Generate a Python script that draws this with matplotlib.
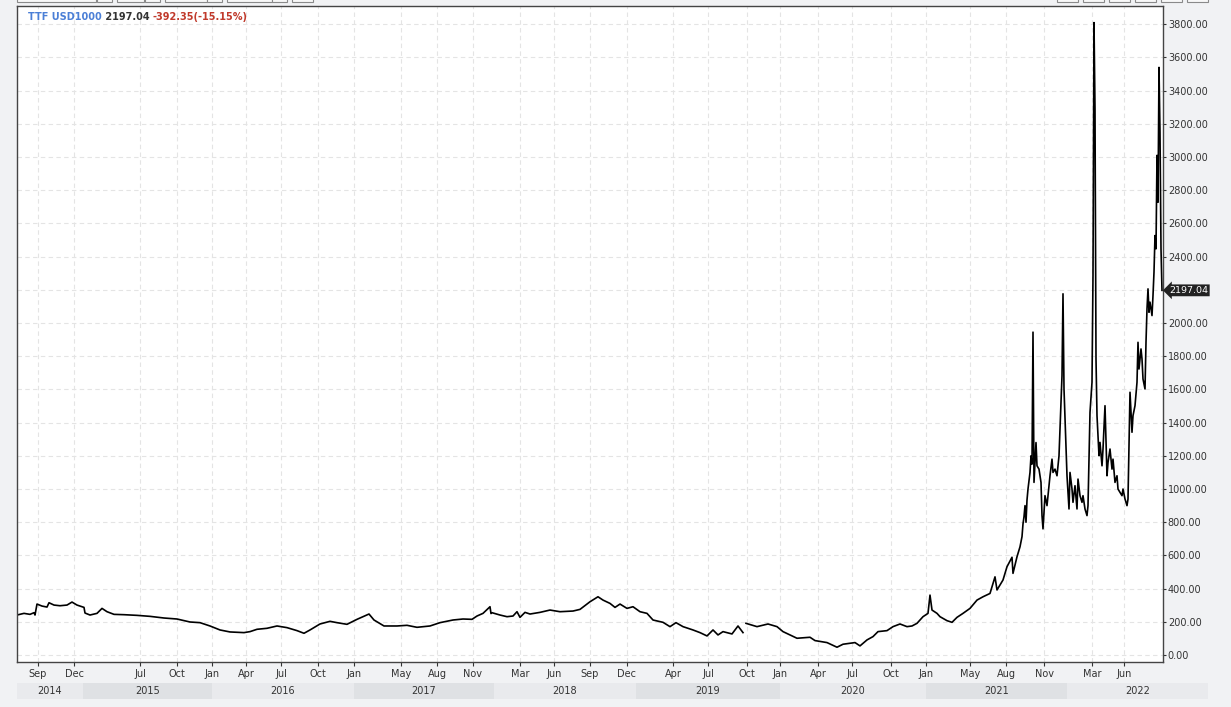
import numpy as np
import matplotlib
matplotlib.use("Agg")
import matplotlib.pyplot as plt
from matplotlib.patches import Rectangle

# bar index on the session axis, and the TTF price (USD per 1000 m3)
bars = [0, 7, 13, 17, 18, 20, 25, 30, 32, 37, 43, 50, 55, 60, 67, 68, 73, 80, 85, 90,
        97, 107, 120, 133, 147, 160, 173, 183, 193, 203, 213, 227, 233, 240, 250, 260, 270, 280, 287, 293,
        303, 313, 320, 330, 340, 352, 357, 367, 380, 390, 400, 413, 423, 436, 446, 455, 460, 466, 473, 474,
        475, 483, 490, 496, 500, 503, 508, 513, 523, 533, 543, 556, 563, 573, 581, 586, 593, 598, 603, 610,
        616, 623, 630, 636, 646, 653, 659, 666, 676, 683, 690, 696, 701, 706, 715, 721, 726, 727, 729, 740,
        751, 760, 766, 780, 793, 798, 810, 820, 826, 833, 838, 843, 850, 856, 861, 870, 876, 883, 890, 895,
        900, 906, 911, 913, 915, 920, 923, 930, 935, 940, 946, 953, 960, 966, 973, 978, 980, 986, 990, 995,
        996, 1000, 1003, 1005, 1006, 1007, 1008, 1009, 1010, 1011, 1013, 1014, 1015, 1016, 1017, 1019, 1020, 1022, 1024, 1025,
        1026, 1028, 1030, 1031, 1033, 1035, 1036, 1038, 1040, 1042, 1044, 1045, 1046, 1047, 1049, 1050, 1052, 1053, 1055, 1056,
        1058, 1060, 1061, 1063, 1065, 1066, 1068, 1070, 1071, 1073, 1075, 1076, 1077, 1078, 1079, 1080, 1082, 1083, 1085, 1086,
        1088, 1090, 1091, 1093, 1095, 1096, 1098, 1100, 1101, 1103, 1105, 1106, 1108, 1110, 1111, 1113, 1115, 1116, 1118, 1120,
        1121, 1122, 1124, 1125, 1126, 1128, 1129, 1130, 1131, 1132, 1133, 1135, 1136, 1137, 1138, 1139, 1140, 1141, 1142, 1143,
        1144, 1145]
prices = [241, 251, 245, 255, 241, 307, 295, 289, 315, 301, 297, 301, 319, 301, 287, 253, 241, 251, 281, 261,
          245, 243, 239, 233, 223, 217, 199, 195, 175, 151, 139, 135, 141, 155, 161, 175, 165, 147, 131, 151,
          187, 203, 195, 185, 215, 247, 211, 175, 175, 179, 167, 175, 195, 211, 217, 215, 235, 251, 291, 250,
          255, 241, 231, 235, 261, 227, 257, 247, 257, 271, 261, 265, 275, 321, 351, 331, 311, 287, 307, 281,
          291, 261, 251, 211, 197, 171, 195, 171, 151, 135, 115, 151, 121, 141, 127, 175, 135, np.nan, 191, 171,
          187, 171, 141, 101, 107, 87, 75, 47, 65, 71, 75, 55, 91, 111, 141, 147, 171, 187, 171, 175,
          191, 231, 251, 361, 271, 251, 231, 207, 197, 227, 251, 281, 331, 351, 371, 471, 392, 452, 532, 589,
          492, 592, 652, 713, 790, 833, 900, 800, 934, 1000, 1100, 1200, 1150, 1945, 1040, 1280, 1140, 1120, 1040, 840,
          760, 960, 900, 960, 1080, 1180, 1100, 1120, 1080, 1200, 1522, 1683, 2176, 1603, 1241, 1080, 880, 1100, 1000, 920,
          1020, 880, 1060, 960, 920, 960, 880, 840, 900, 1462, 1643, 2286, 3810, 3291, 1784, 1442, 1201, 1281, 1140, 1241,
          1502, 1080, 1160, 1241, 1120, 1180, 1040, 1080, 1000, 980, 960, 1000, 940, 900, 940, 1583, 1342, 1442, 1502, 1643,
          1884, 1723, 1844, 1784, 1663, 1603, 1884, 2085, 2206, 2065, 2126, 2045, 2166, 2307, 2527, 2447, 3010, 2728, 3540, 3150,
          2447, 2197.04]

month_ticks = [21, 57, 123, 160, 195, 229, 264, 301, 337, 384, 420, 456, 503, 537, 573,
               610, 656, 691, 730, 763, 801, 835, 874, 909, 953, 989, 1027, 1075, 1107]
month_labels = ["Sep", "Dec", "Jul", "Oct", "Jan", "Apr", "Jul", "Oct", "Jan", "May", "Aug", "Nov", "Mar", "Jun", "Sep",
                "Dec", "Apr", "Jul", "Oct", "Jan", "Apr", "Jul", "Oct", "Jan", "May", "Aug", "Nov", "Mar", "Jun"]

year_labels = ["2014", "2015", "2016", "2017", "2018", "2019", "2020", "2021", "2022"]
year_edges = [0, 66, 194.5, 337, 477, 619, 763, 909, 1050, 1191]

price_ticks = list(range(0, 3801, 200))

last_price = 2197.04
change = -392.35
change_pct = -15.15

W, H = 1231, 707
bg = "#f1f2f4"
fig = plt.figure(figsize=(W / 100, H / 100), dpi=100, facecolor=bg)

ax = fig.add_axes([17 / W, (H - 662) / H, 1146 / W, 656 / H])
ax.set_facecolor("white")
ax.plot(bars, prices, color="black", lw=1.2)
ax.set_xlim(0, 1146)
ax.set_ylim(-42, 3910)

ax.yaxis.tick_right()
ax.set_yticks(price_ticks)
ax.set_yticklabels([f"{v:.2f}" for v in price_ticks])
ax.set_xticks(month_ticks)
ax.set_xticklabels(month_labels)
ax.tick_params(axis="y", direction="out", length=2.5, width=0.8, pad=1, labelsize=7, colors="#333333")
ax.tick_params(axis="x", direction="out", length=3, width=0.8, pad=2, labelsize=7, colors="#333333")
ax.grid(True, color="#e4e4e4", ls=(0, (4, 3)), lw=0.8)
for s in ax.spines.values():
    s.set_color("#444444")
    s.set_linewidth(1.0)

# title line
t1 = ax.text(11 / 1146, 1 - 11 / 656, "TTF USD1000", transform=ax.transAxes, color="#4b7fd6",
             fontsize=7, fontweight="bold", va="center", ha="left")
t2 = ax.annotate(f" {last_price:.2f} ", xy=(1, 0.5), xycoords=t1, va="center", ha="left",
                 color="#333333", fontsize=7, fontweight="bold")
ax.annotate(f"{change:.2f}({change_pct:.2f}%)", xy=(1, 0.5), xycoords=t2, va="center", ha="left",
            color="#c0392b", fontsize=7, fontweight="bold")

# last price marker
ax.annotate(f"{last_price:.2f}", xy=(1, last_price), xycoords=("axes fraction", "data"),
            xytext=(4.5, 0), textcoords="offset points", va="center", ha="left",
            fontsize=6.8, color="white", annotation_clip=False,
            bbox=dict(boxstyle="larrow,pad=0.15", fc="#222222", ec="none"))

# year band under the month axis
band = fig.add_axes([17 / W, (H - 699) / H, 1191 / W, 16 / H])
band.set_xlim(0, year_edges[-1])
band.set_ylim(0, 1)
band.axis("off")
for i, lab in enumerate(year_labels):
    c = "#dfe1e4" if i % 2 else "#e9eaed"
    band.axvspan(year_edges[i], year_edges[i + 1], color=c, lw=0)
    band.text((year_edges[i] + year_edges[i + 1]) / 2, 0.5, lab, ha="center", va="center",
              fontsize=7, color="#333333")

# toolbar buttons peeking at the top edge
buttons = [(17, 96), (97, 112), (117, 144), (145, 160), (165, 207), (207, 222), (227, 272),
           (272, 287), (292, 313), (1057, 1078), (1083, 1104), (1109, 1130), (1135, 1156),
           (1161, 1182), (1187, 1208)]
for x0, x1 in buttons:
    fig.add_artist(Rectangle((x0 / W, (H - 2) / H), (x1 - x0) / W, 10 / H, transform=fig.transFigure,
                             fc="#f8f8f8", ec="#8a8a8a", lw=0.8))

fig.savefig("out.png", dpi=100, facecolor=bg)
